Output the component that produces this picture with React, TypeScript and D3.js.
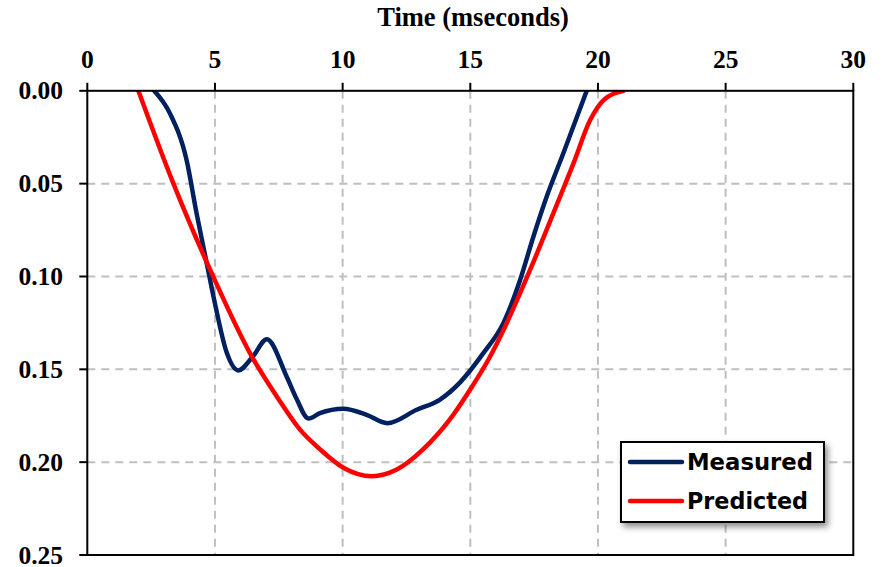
import React from "react";
import * as d3 from "d3";

// Measured settlement profile (time in ms, depth)
const measuredTime = [2.62, 3.24, 3.89, 4.28, 4.68, 4.97, 5.46, 5.91, 6.49, 7.03, 7.81, 8.2, 8.66, 9.11, 10.03, 10.94, 11.75, 12.9, 13.8, 14.6, 15.51, 16.3, 16.95, 17.47, 17.99, 18.64, 19.56];
const measuredValue = [0, 0.0123, 0.0374, 0.066, 0.093, 0.1126, 0.141, 0.1506, 0.143, 0.1338, 0.154, 0.166, 0.1765, 0.1736, 0.1712, 0.1745, 0.179, 0.1718, 0.1664, 0.157, 0.1413, 0.125, 0.1019, 0.0786, 0.0571, 0.0338, 0];

// Predicted settlement profile
const predictedTime = [2.0, 3.37, 4.93, 6.44, 7.42, 8.33, 9.11, 10.03, 11.14, 12.12, 13.16, 14.2, 14.99, 15.7, 16.3, 17.34, 18.25, 19.04, 19.69, 20.21, 21.0];
const predictedValue = [0, 0.0499, 0.1, 0.143, 0.1646, 0.1825, 0.193, 0.203, 0.2076, 0.204, 0.193, 0.177, 0.161, 0.145, 0.1288, 0.0965, 0.066, 0.0391, 0.0159, 0.0051, 0];

const xTicks = [0, 5, 10, 15, 20, 25, 30];
const yTicks = [0, 0.05, 0.1, 0.15, 0.2, 0.25];
const seriesNames = ["Measured", "Predicted"];
const seriesColors = ["#002060", "#ff0000"];

const W = 884;
const H = 567;
const left = 87.3;
const right = 853.3;
const top = 90.8;
const bottom = 555;

export default function App() {
  const x = d3.scaleLinear().domain([0, 30]).range([left, right]);
  const y = d3.scaleLinear().domain([0, 0.25]).range([top, bottom]);

  const line = d3
    .line<[number, number]>()
    .x((d) => x(d[0]))
    .y((d) => y(d[1]))
    .curve(d3.curveMonotoneX);

  const measured = measuredTime.map((t, i) => [t, measuredValue[i]] as [number, number]);
  const predicted = predictedTime.map((t, i) => [t, predictedValue[i]] as [number, number]);
  const series = [measured, predicted];

  const serif = "'Liberation Serif', 'Times New Roman', serif";
  const sans = "'DejaVu Sans', 'Liberation Sans', sans-serif";

  const lgX = 621;
  const lgY = 442;
  const lgW = 203;
  const lgH = 80;

  return (
    <svg
      width={W}
      height={H}
      style={{ position: "absolute", left: 0, top: 0, background: "#fff" }}
    >
      <defs>
        <filter id="lgShadow" x="-10%" y="-10%" width="130%" height="140%">
          <feDropShadow dx="3" dy="4" stdDeviation="3" floodColor="#000" floodOpacity="0.45" />
        </filter>
        <clipPath id="plotClip">
          <rect x={left} y={top} width={right - left} height={bottom - top} />
        </clipPath>
      </defs>

      {/* grid */}
      {xTicks.slice(1, -1).map((t) => (
        <line
          key={"gx" + t}
          x1={x(t)}
          x2={x(t)}
          y1={top}
          y2={bottom}
          stroke="#bfbfbf"
          strokeWidth={2}
          strokeDasharray="8 6"
        />
      ))}
      {yTicks.slice(1, -1).map((t) => (
        <line
          key={"gy" + t}
          x1={left}
          x2={right}
          y1={y(t)}
          y2={y(t)}
          stroke="#bfbfbf"
          strokeWidth={2}
          strokeDasharray="8 6"
        />
      ))}

      {/* series */}
      <g clipPath="url(#plotClip)">
        {series.map((s, i) => (
          <path
            key={seriesNames[i]}
            d={line(s) || ""}
            fill="none"
            stroke={seriesColors[i]}
            strokeWidth={4.5}
            strokeLinejoin="round"
            strokeLinecap="round"
          />
        ))}
      </g>

      {/* frame */}
      <rect x={left} y={top} width={right - left} height={bottom - top} fill="none" stroke="#000" strokeWidth={2} />

      {/* x ticks and labels on top */}
      {xTicks.map((t) => (
        <g key={"xt" + t}>
          <line x1={x(t)} x2={x(t)} y1={top - 8} y2={top} stroke="#000" strokeWidth={2} />
          <text
            x={x(t)}
            y={68}
            textAnchor="middle"
            fontFamily={serif}
            fontWeight="bold"
            fontSize={25.5}
            fill="#000"
          >
            {t}
          </text>
        </g>
      ))}

      {/* y ticks and labels */}
      {yTicks.map((t) => (
        <g key={"yt" + t}>
          <line x1={left - 8} x2={left} y1={y(t)} y2={y(t)} stroke="#000" strokeWidth={2} />
          <text
            x={63}
            y={y(t)}
            dy="0.34em"
            textAnchor="end"
            fontFamily={serif}
            fontWeight="bold"
            fontSize={25.5}
            fill="#000"
          >
            {t.toFixed(2)}
          </text>
        </g>
      ))}

      {/* axis title */}
      <text
        x={473}
        y={26}
        textAnchor="middle"
        fontFamily={serif}
        fontWeight="bold"
        fontSize={26.5}
        fill="#000"
      >
        Time (mseconds)
      </text>

      {/* legend */}
      <rect x={lgX} y={lgY} width={lgW} height={lgH} fill="#fff" stroke="#000" strokeWidth={2} filter="url(#lgShadow)" />
      {seriesNames.map((name, i) => (
        <g key={"lg" + name}>
          <line
            x1={lgX + 9}
            x2={lgX + 61}
            y1={lgY + 20 + i * 39}
            y2={lgY + 20 + i * 39}
            stroke={seriesColors[i]}
            strokeWidth={4.5}
            strokeLinecap="round"
          />
          <text
            x={lgX + 66}
            y={lgY + 20 + i * 39}
            dy="0.36em"
            fontFamily={sans}
            fontWeight="bold"
            fontSize={23.5}
            fill="#000"
            textLength={name === "Measured" ? 126 : 121}
            lengthAdjust="spacingAndGlyphs"
          >
            {name}
          </text>
        </g>
      ))}
    </svg>
  );
}
